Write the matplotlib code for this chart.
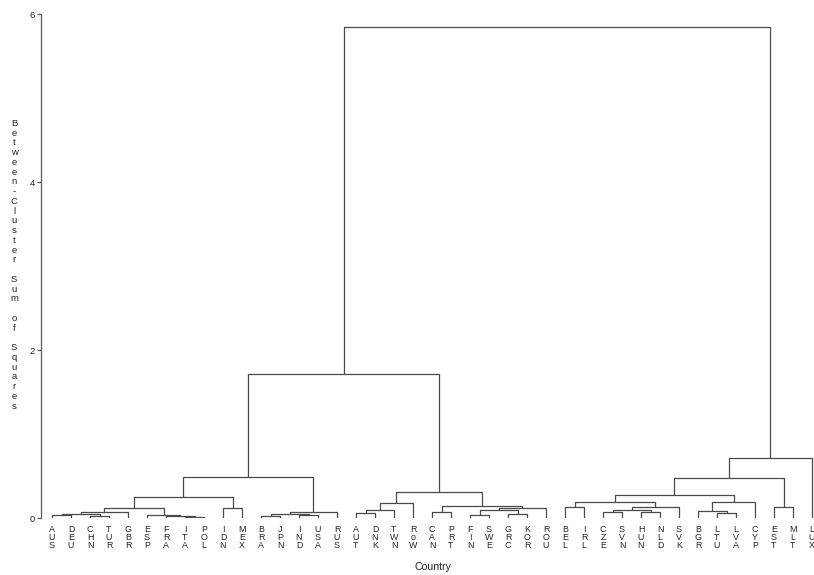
import matplotlib
matplotlib.use("Agg")
import matplotlib.pyplot as plt

plt.rcParams['font.family'] = ['Liberation Sans', 'DejaVu Sans']

# Leaf order (left to right)
labels = ["AUS", "DEU", "CHN", "TUR", "GBR", "ESP", "FRA", "ITA", "POL", "IDN", "MEX",
          "BRA", "JPN", "IND", "USA", "RUS",
          "AUT", "DNK", "TWN", "RoW", "CAN", "PRT", "FIN", "SWE", "GRC", "KOR", "ROU",
          "BEL", "IRL", "CZE", "SVN", "HUN", "NLD", "SVK", "BGR", "LTU", "LVA", "CYP",
          "EST", "MLT", "LUX"]

# Merges: child a, child b (leaf name or index of earlier merge), merge height
merge_a = ["AUS", "CHN", 0, 2, "ITA", "FRA", "ESP", 3, "IDN", 7,
           "BRA", "IND", 10, 12, 9, "AUT", 15, 16, "CAN", "FIN",
           "GRC", 19, 21, 18, 17, 14, "BEL", "CZE", "HUN", 27,
           29, 26, "LTU", "BGR", 33, 31, "EST", 35, 37, 25]
merge_b = ["DEU", "TUR", 1, "GBR", "POL", 4, 5, 6, "MEX", 8,
           "JPN", "USA", 11, "RUS", 13, "DNK", "TWN", "RoW", "PRT", "SWE",
           "KOR", 20, "ROU", 22, 23, 24, "IRL", "SVN", "NLD", 28,
           "SVK", 30, "LVA", 32, "CYP", 34, "MLT", 36, "LUX", 38]
merge_h = [0.03, 0.02, 0.05, 0.07, 0.01, 0.02, 0.03, 0.115, 0.115, 0.25,
           0.02, 0.03, 0.05, 0.07, 0.49, 0.055, 0.10, 0.18, 0.075, 0.04,
           0.05, 0.095, 0.125, 0.14, 0.305, 1.72, 0.13, 0.07, 0.07, 0.095,
           0.135, 0.19, 0.055, 0.085, 0.185, 0.27, 0.135, 0.475, 0.72, 5.85]

yticks = [0, 2, 4, 6]
ylabel = "Between-Cluster Sum of Squares"
xlabel = "Country"

W, H = 814, 575
fig = plt.figure(figsize=(W / 100, H / 100), dpi=100)
ax_left_px, ax_bottom_px, ax_top_px = 41, 518, 14
ax = fig.add_axes([ax_left_px / W, (H - ax_bottom_px) / H,
                   (W - ax_left_px) / W, (ax_bottom_px - ax_top_px) / H])

leaf_x = {lab: i + 1 for i, lab in enumerate(labels)}
node_x, node_h = [], []


def pos(ref):
    if isinstance(ref, str):
        return leaf_x[ref], 0.0
    return node_x[ref], node_h[ref]


line_kw = dict(color="#4a4a4a", lw=0.9, solid_capstyle="butt")
for a, b, h in zip(merge_a, merge_b, merge_h):
    xa, ha = pos(a)
    xb, hb = pos(b)
    ax.plot([xa, xa, xb, xb], [ha, h, h, hb], **line_kw)
    node_x.append((xa + xb) / 2)
    node_h.append(h)

px_per_unit = 19.0
x0 = 1 - (52 - ax_left_px) / px_per_unit
ax.set_xlim(x0, x0 + (W - ax_left_px) / px_per_unit)
ax.set_ylim(0, 6)

for s in ["top", "right", "bottom"]:
    ax.spines[s].set_visible(False)
ax.spines["left"].set_color("#5a5a5a")
ax.spines["left"].set_linewidth(0.9)
ax.set_xticks([])
ax.set_yticks(yticks)
ax.set_yticklabels([str(t) for t in yticks])
ax.tick_params(axis="y", length=3.2, width=0.9, pad=1.2, labelsize=6.8,
               color="#5a5a5a", labelcolor="#222222")

# stacked leaf labels
pitch_pt = 8.0 * 72 / 100
first_pt = 14.0 * 72 / 100
for lab in labels:
    for k, ch in enumerate(lab):
        ax.annotate(ch, xy=(leaf_x[lab], 0), xytext=(0, -(first_pt + k * pitch_pt)),
                    textcoords="offset points", ha="center", va="baseline",
                    fontsize=6.4, color="#222222", annotation_clip=False)

# stacked y label
step = 9.75
for k, ch in enumerate(ylabel):
    if ch == " ":
        continue
    fig.text(14 / W, 1 - (123.3 + k * step) / H, ch, ha="center", va="center",
             fontsize=6.8, color="#222222")

fig.text(433 / W, 1 - 567 / H, xlabel, ha="center", va="center",
         fontsize=7.6, color="#222222")

fig.savefig("out.png", dpi=100)
